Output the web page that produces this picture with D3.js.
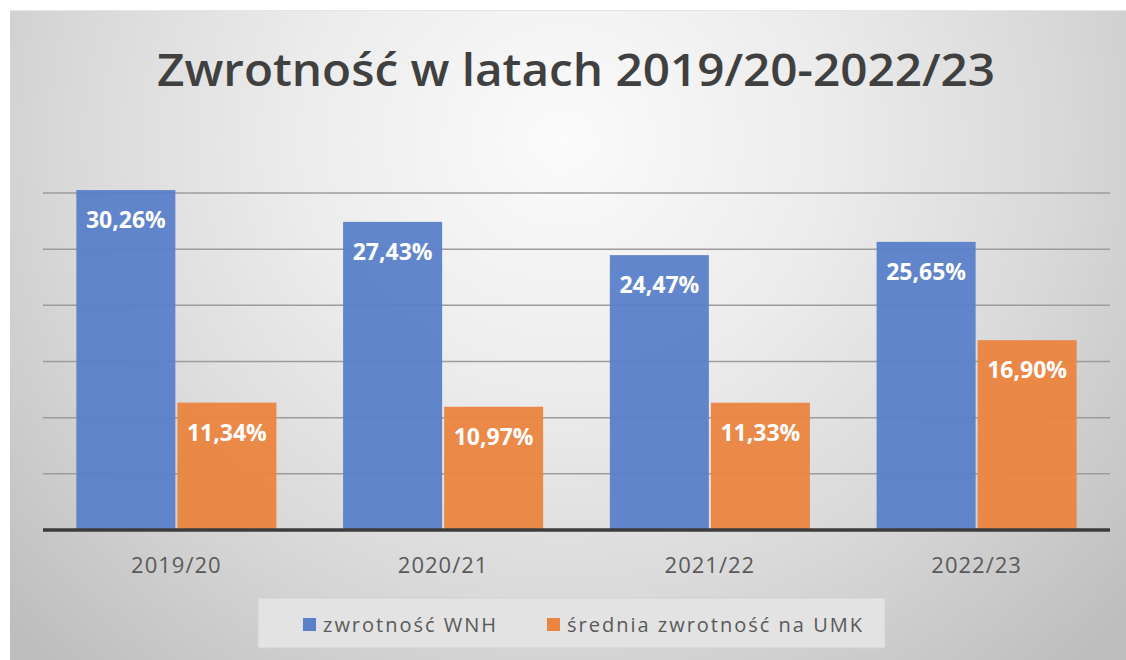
<!DOCTYPE html>
<html>
<head>
<meta charset="utf-8">
<script src="https://cdn.jsdelivr.net/npm/d3@7"></script>
<style>
  body { margin: 0; background: #fff; }
  svg { display: block; }
</style>
</head>
<body>
<svg id="chart" width="1126" height="660"></svg>
<script>
const years = ["2019/20", "2020/21", "2021/22", "2022/23"];
const seriesNames = ["zwrotność WNH", "średnia zwrotność na UMK"];
const wnh = [30.26, 27.43, 24.47, 25.65];
const umk = [11.34, 10.97, 11.33, 16.90];
const gridTicks = [5, 10, 15, 20, 25, 30];

const colors = ["#5a80c8", "#eb8440"];

const svg = d3.select("#chart");

// background panel with soft radial shading
const defs = svg.append("defs");
const grad = defs.append("radialGradient")
  .attr("id", "bg").attr("gradientUnits", "userSpaceOnUse")
  .attr("cx", 563).attr("cy", 140).attr("r", 760)
  .attr("gradientTransform", "translate(563,140) scale(1,0.95) translate(-563,-140)");
grad.append("stop").attr("offset", 0).attr("stop-color", "#fbfbfb");
grad.append("stop").attr("offset", 0.35).attr("stop-color", "#ececec");
grad.append("stop").attr("offset", 0.65).attr("stop-color", "#d9d9d9");
grad.append("stop").attr("offset", 1).attr("stop-color", "#bdbdbd");

svg.append("rect")
  .attr("x", 10).attr("y", 10).attr("width", 1116).attr("height", 650)
  .attr("fill", "url(#bg)");
svg.append("line")
  .attr("x1", 10).attr("x2", 1126).attr("y1", 10.5).attr("y2", 10.5)
  .attr("stroke", "#e6e6e6");

// title
svg.append("text")
  .attr("x", 576).attr("y", 86)
  .attr("text-anchor", "middle")
  .attr("font-family", "'Open Sans', sans-serif")
  .attr("font-weight", 600)
  .attr("font-size", 45)
  .attr("fill", "#404040")
  .attr("textLength", 838).attr("lengthAdjust", "spacingAndGlyphs")
  .text("Zwrotność w latach 2019/20-2022/23");

const x = d3.scaleBand().domain(years).range([43, 1110]);
const xSub = d3.scaleBand().domain([0, 1]).range([0, x.bandwidth()])
  .paddingOuter(0.33).paddingInner(0.02);
const y = d3.scaleLinear().domain([0, 30]).range([530, 193]);

// gridlines
svg.append("g").selectAll("line").data(gridTicks).join("line")
  .attr("x1", 43).attr("x2", 1110)
  .attr("y1", d => y(d)).attr("y2", d => y(d))
  .attr("stroke", "#9c9c9c").attr("stroke-width", 1.5);

const rows = years.map((yr, i) => ({ year: yr, vals: [wnh[i], umk[i]] }));

const groups = svg.append("g").selectAll("g").data(rows).join("g")
  .attr("transform", d => `translate(${x(d.year)},0)`);

groups.selectAll("rect").data(d => d.vals).join("rect")
  .attr("x", (d, i) => xSub(i))
  .attr("width", xSub.bandwidth())
  .attr("y", d => y(d))
  .attr("height", d => y(0) - y(d))
  .attr("fill", (d, i) => colors[i])
  .attr("fill-opacity", 0.95);

groups.selectAll("text").data(d => d.vals).join("text")
  .attr("x", (d, i) => xSub(i) + xSub.bandwidth() / 2)
  .attr("y", d => y(d) + 38)
  .attr("text-anchor", "middle")
  .attr("font-family", "'Open Sans', sans-serif")
  .attr("font-weight", 700)
  .attr("font-size", 23)
  .attr("fill", "#ffffff")
  .text(d => d.toFixed(2).replace(".", ",") + "%");

// baseline
svg.append("line")
  .attr("x1", 43).attr("x2", 1110)
  .attr("y1", y(0)).attr("y2", y(0))
  .attr("stroke", "#3c3c3c").attr("stroke-width", 3.5);

// category axis
const xAxis = svg.append("g")
  .attr("transform", `translate(0,${y(0)})`)
  .call(d3.axisBottom(x).tickSize(0).tickPadding(27));
xAxis.select(".domain").remove();
xAxis.selectAll("text")
  .attr("font-family", "'Open Sans', sans-serif")
  .attr("font-size", 22)
  .attr("letter-spacing", 1)
  .attr("fill", "#595959");

// legend
const legend = svg.append("g");
legend.append("rect")
  .attr("x", 258).attr("y", 598).attr("width", 627).attr("height", 50)
  .attr("fill", "#e3e3e3").attr("stroke", "#d2d2d2");
const legendX = [303, 547];
const items = legend.selectAll("g.item").data(seriesNames).join("g")
  .attr("class", "item")
  .attr("transform", (d, i) => `translate(${legendX[i]},0)`);
items.append("rect")
  .attr("x", 0).attr("y", 618).attr("width", 13).attr("height", 13)
  .attr("fill", (d, i) => colors[i]);
items.append("text")
  .attr("x", 20).attr("y", 632)
  .attr("font-family", "'Open Sans', sans-serif")
  .attr("font-size", 20)
  .attr("letter-spacing", 2)
  .attr("fill", "#595959")
  .text(d => d);
</script>
</body>
</html>
